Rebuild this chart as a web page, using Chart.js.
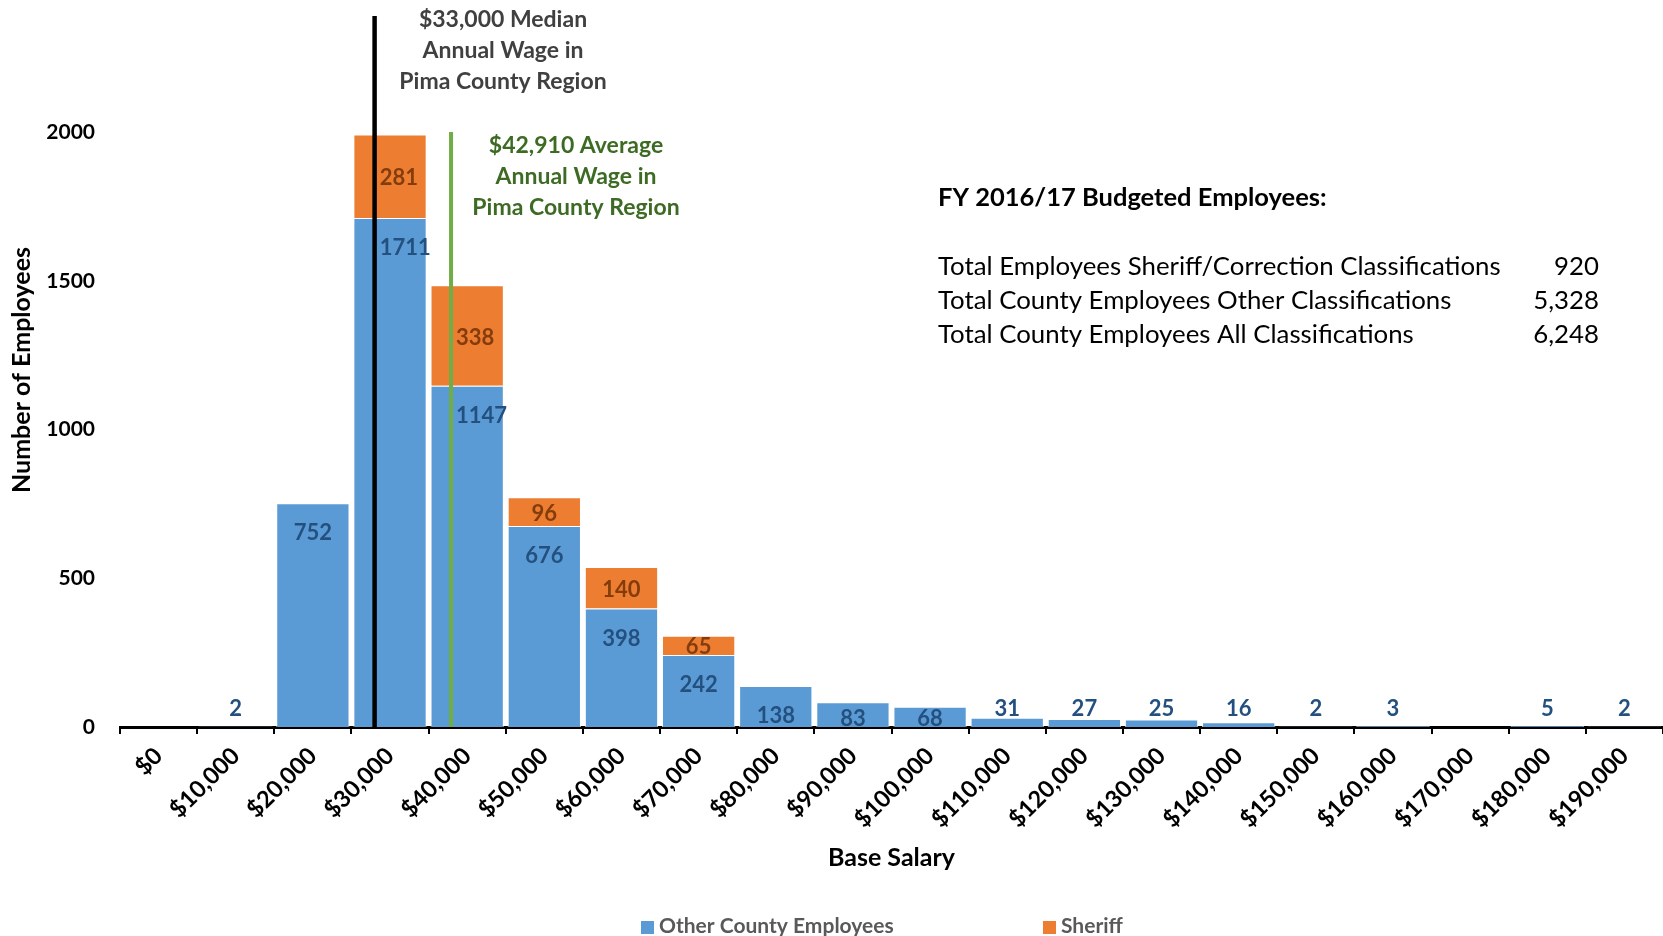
<!DOCTYPE html>
<html>
<head>
<meta charset="utf-8">
<script src="https://cdn.jsdelivr.net/npm/chart.js@4.4.1/dist/chart.umd.min.js"></script>
<style>
html,body{margin:0;padding:0;background:#ffffff;}
#wrap{width:1663px;height:936px;position:relative;}
canvas{display:block;}
</style>
</head>
<body>
<div id="wrap"><canvas id="c" width="1663" height="936"></canvas></div>
<script>
// ---------------- DATA ----------------
const categories = ['$0','$10,000','$20,000','$30,000','$40,000','$50,000','$60,000','$70,000','$80,000','$90,000',
  '$100,000','$110,000','$120,000','$130,000','$140,000','$150,000','$160,000','$170,000','$180,000','$190,000'];
const otherEmployees   = [0, 2, 752, 1711, 1147, 676, 398, 242, 138, 83, 68, 31, 27, 25, 16, 2, 3, 0, 5, 2];
const sheriffEmployees = [0, 0, 0, 281, 338, 96, 140, 65, 0, 0, 0, 0, 0, 0, 0, 0, 0, 0, 0, 0];
const seriesNames = ['Other County Employees', 'Sheriff'];
const yTicks = [0, 500, 1000, 1500, 2000];
const binWidth = 10000;
const medianWage = 33000;
const averageWage = 42910;
const medianText = ['$33,000 Median', 'Annual Wage in', 'Pima County Region'];
const averageText = ['$42,910 Average', 'Annual Wage in', 'Pima County Region'];
const summaryTitle = 'FY 2016/17 Budgeted Employees:';
const summaryLabels = ['Total Employees Sheriff/Correction Classifications',
  'Total County Employees Other Classifications',
  'Total County Employees All Classifications'];
const summaryValues = [920, 5328, 6248];
const xTitle = 'Base Salary';
const yTitle = 'Number of Employees';

// ---------------- STYLE ----------------
const FONT = 'Lato, "Open Sans", sans-serif';
const BLUE = '#5B9BD5';
const ORANGE = '#ED7D31';
const BLUE_LABEL = '#23507E';
const ORANGE_LABEL = '#843C0C';

function refLines(chart) {
  const x = chart.scales.x;
  return [
    { x: x.getPixelForValue(medianWage / binWidth - 0.5), w: 4.5, color: '#000000', top: 16 },
    { x: x.getPixelForValue(averageWage / binWidth - 0.5), w: 4, color: '#70AD47', top: chart.scales.y.getPixelForValue(yTicks[yTicks.length - 1]) }
  ];
}

const overlay = {
  id: 'overlay',
  afterDatasetsDraw(chart) {
    const ctx = chart.ctx, area = chart.chartArea;
    ctx.save();
    refLines(chart).forEach(l => {
      ctx.strokeStyle = l.color;
      ctx.lineWidth = l.w;
      ctx.beginPath();
      ctx.moveTo(l.x, l.top);
      ctx.lineTo(l.x, area.bottom);
      ctx.stroke();
    });
    ctx.restore();
  },
  afterDraw(chart) {
    const ctx = chart.ctx;
    const lines = refLines(chart);
    ctx.save();
    // ---- data labels ----
    ctx.font = 'bold 22px ' + FONT;
    ctx.textAlign = 'center';
    ctx.textBaseline = 'middle';
    chart.data.datasets.forEach((ds, di) => {
      const meta = chart.getDatasetMeta(di);
      meta.data.forEach((bar, i) => {
        const v = ds.data[i];
        if (!v) return;
        const txt = String(v);
        const w = ctx.measureText(txt).width;
        const top = Math.min(bar.y, bar.base), base = Math.max(bar.y, bar.base);
        const h = base - top;
        let cy;
        if (di === 0) {
          if (h < 18) cy = Math.min(top - 9, base - 18);
          else cy = Math.min(top + 30, base - 8);
        } else {
          cy = (top + base) / 2 + 2;
        }
        let cx = bar.x;
        lines.forEach(l => {
          if (l.x > cx - w / 2 - 3 && l.x < cx + w / 2 + 3) {
            cx = l.x + l.w / 2 + 3 + w / 2;
          }
        });
        ctx.fillStyle = di === 0 ? BLUE_LABEL : ORANGE_LABEL;
        ctx.fillText(txt, cx, cy);
      });
    });

    // ---- reference line annotations ----
    ctx.font = 'bold 23px ' + FONT;
    ctx.fillStyle = '#404040';
    medianText.forEach((t, i) => ctx.fillText(t, 503, 20 + i * 31));
    ctx.fillStyle = '#3D6B24';
    averageText.forEach((t, i) => ctx.fillText(t, 576, 146 + i * 31));

    // ---- summary box ----
    ctx.textAlign = 'left';
    ctx.fillStyle = '#000000';
    ctx.font = 'bold 25.5px ' + FONT;
    ctx.fillText(summaryTitle, 938, 198);
    ctx.font = '25.8px ' + FONT;
    summaryLabels.forEach((t, i) => {
      ctx.textAlign = 'left';
      ctx.fillText(t, 938, 267 + i * 34);
      ctx.textAlign = 'right';
      ctx.fillText(summaryValues[i].toLocaleString('en-US'), 1599, 267 + i * 34);
    });

    // ---- y axis title ----
    ctx.save();
    ctx.translate(22, 370);
    ctx.rotate(-Math.PI / 2);
    ctx.textAlign = 'center';
    ctx.font = 'bold 25px ' + FONT;
    ctx.fillStyle = '#000000';
    ctx.fillText(yTitle, 0, 0);
    ctx.restore();

    // ---- legend ----
    const legendX = [641, 1043];
    ctx.font = 'bold 21px ' + FONT;
    ctx.textAlign = 'left';
    chart.data.datasets.forEach((ds, di) => {
      ctx.fillStyle = ds.backgroundColor;
      ctx.fillRect(legendX[di], 921, 13, 13);
      ctx.fillStyle = '#595959';
      ctx.fillText(ds.label, legendX[di] + 18, 926);
    });
    ctx.restore();
  }
};

function build() {
  new Chart(document.getElementById('c'), {
    type: 'bar',
    data: {
      labels: categories,
      datasets: [
        { label: seriesNames[0], data: otherEmployees, backgroundColor: BLUE, borderColor: 'rgba(255,255,255,0.75)', borderWidth: 1 },
        { label: seriesNames[1], data: sheriffEmployees, backgroundColor: ORANGE, borderColor: 'rgba(255,255,255,0.75)', borderWidth: 1 }
      ]
    },
    options: {
      responsive: false,
      animation: false,
      devicePixelRatio: 1,
      layout: { padding: { top: 132, right: 0, bottom: 63, left: 0 } },
      datasets: { bar: { barPercentage: 0.95, categoryPercentage: 1.0 } },
      plugins: { legend: { display: false }, tooltip: { enabled: false } },
      scales: {
        x: {
          stacked: true,
          z: 1,
          offset: true,
          afterFit(s) { s.height = 146; },
          grid: { display: true, drawOnChartArea: false, drawTicks: true, tickLength: 7, color: '#000000', lineWidth: 2, offset: true },
          border: { display: true, color: '#000000', width: 3 },
          ticks: { autoSkip: false, minRotation: 45, maxRotation: 45, padding: 8, color: '#000000', font: { family: FONT, size: 23.5, weight: 'bold' } },
          title: { display: true, text: xTitle, color: '#000000', padding: { top: 0, bottom: 0 }, font: { family: FONT, size: 25, weight: 'bold' } }
        },
        y: {
          stacked: true,
          min: yTicks[0],
          max: yTicks[yTicks.length - 1],
          afterFit(s) { s.width = 120; },
          afterBuildTicks(s) { s.ticks = yTicks.map(v => ({ value: v })); },
          grid: { display: false, drawTicks: false },
          border: { display: false },
          ticks: { padding: 25, color: '#000000', font: { family: FONT, size: 21, weight: 'bold' }, callback: v => String(v) }
        }
      }
    },
    plugins: [overlay]
  });
}

const fontLoads = ['bold 22px Lato', '22px Lato'].map(f => document.fonts.load(f).catch(() => null));
Promise.all(fontLoads).then(build, build);
</script>
</body>
</html>
